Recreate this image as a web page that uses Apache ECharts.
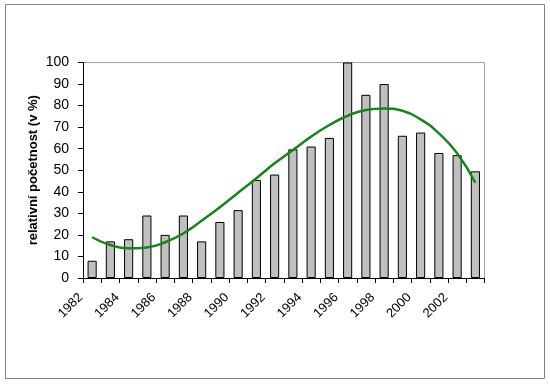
<!DOCTYPE html>
<html><head><meta charset="utf-8">
<script src="https://cdn.jsdelivr.net/npm/echarts@6/dist/echarts.min.js"></script>
<style>html,body{margin:0;padding:0;background:#fff}#c{width:550px;height:384px}</style>
</head><body><div id="c"></div>
<script>
const years = ['1982','1983','1984','1985','1986','1987','1988','1989','1990','1991','1992','1993','1994','1995','1996','1997','1998','1999','2000','2001','2002','2003'];
const barValues = [8,17,18,29,20,29,17,26,31.5,45.5,48,59.7,61,65,100,85,90,66,67.5,58,57,49.5];
const trendValues = [18.9,15.3,13.8,14.2,16.6,20.7,26.6,32.8,39.6,46.3,53.2,59.4,65.6,71.0,75.3,78.0,78.7,77.6,73.6,67.1,57.9,44.2];
const yTicks = [0,10,20,30,40,50,60,70,80,90,100];
const yTitle = 'relativní početnost (v %)';

const chart = echarts.init(document.getElementById('c'), null, {renderer:'canvas'});
const font = 'Liberation Sans, Arial, sans-serif';
chart.setOption({
  animation:false,
  graphic:[
    {type:'rect', shape:{x:5.5,y:4.5,width:539,height:374}, style:{fill:'none', stroke:'#808080', lineWidth:1}, z:-1},
    {type:'line', shape:{x1:83,y1:62.5,x2:484.5,y2:62.5}, style:{stroke:'#a0a0a0', lineWidth:1}},
    {type:'line', shape:{x1:484.5,y1:62.5,x2:484.5,y2:278}, style:{stroke:'#a0a0a0', lineWidth:1}}
  ],
  grid:{left:83, right:65.5, top:62.5, bottom:106, containLabel:false},
  xAxis:{
    type:'category', data:years, boundaryGap:true,
    axisLine:{lineStyle:{color:'#000', width:1}},
    axisTick:{show:true, interval:0, length:5, lineStyle:{color:'#000'}},
    axisLabel:{interval:1, rotate:45, fontFamily:font, fontSize:13, color:'#000', margin:6, padding:[0,16,0,0]},
    splitLine:{show:false}
  },
  yAxis:{
    type:'value', min:yTicks[0], max:yTicks[yTicks.length-1], interval:10,
    name:yTitle, nameLocation:'middle', nameGap:43, nameRotate:90, nameMoveOverlap:false,
    nameTextStyle:{fontFamily:font, fontSize:13, fontWeight:'bold', color:'#000'},
    axisLine:{show:true, lineStyle:{color:'#000', width:1}},
    axisTick:{show:true, length:5, lineStyle:{color:'#000'}},
    axisLabel:{fontFamily:font, fontSize:14, color:'#000', margin:14},
    splitLine:{show:false}
  },
  series:[
    {type:'bar', data:barValues, barWidth:'50%',
     itemStyle:{color:'#c0c0c0', borderColor:'#000', borderWidth:1}},
    {type:'line', data:trendValues, smooth:true, symbol:'none',
     lineStyle:{color:'#16861a', width:2.5}, z:3}
  ]
});
</script></body></html>
